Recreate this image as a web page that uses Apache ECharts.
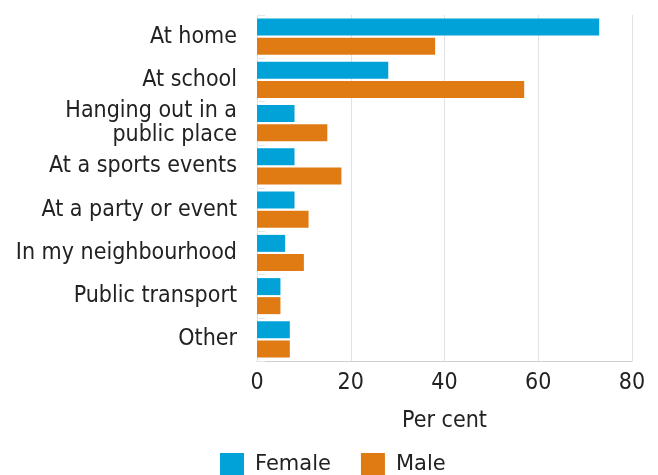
<!DOCTYPE html>
<html>
<head>
<meta charset="utf-8">
<script src="https://cdn.jsdelivr.net/npm/echarts@6/dist/echarts.min.js"></script>
<style>
  html, body { margin: 0; padding: 0; background: #ffffff; }
  #chart { width: 658px; height: 475px; }
</style>
</head>
<body>
<div id="chart"></div>
<script>
// Where bullying happened, by sex (per cent)
var categories = [
  'At home',
  'At school',
  'Hanging out in a\npublic place',
  'At a sports events',
  'At a party or event',
  'In my neighbourhood',
  'Public transport',
  'Other'
];
var female = [73, 28, 8, 8, 8, 6, 5, 7];
var male = [38, 57, 15, 18, 11, 10, 5, 7];
var xTicks = [0, 20, 40, 60, 80];

var chart = echarts.init(document.getElementById('chart'));
var labelFont = '"DejaVu Sans Condensed", "DejaVu Sans", sans-serif';

chart.setOption({
  animation: false,
  grid: { left: 257, right: 26, top: 15, bottom: 114, containLabel: false },
  legend: {
    bottom: -2,
    left: 220,
    padding: 0,
    itemWidth: 24,
    itemHeight: 24,
    itemGap: 30,
    icon: 'rect',
    textStyle: {
      fontFamily: '"DejaVu Sans", sans-serif',
      fontSize: 21,
      color: '#222',
      padding: [0, 0, 0, 6]
    },
    data: ['Female', 'Male']
  },
  xAxis: {
    type: 'value',
    min: xTicks[0],
    max: xTicks[xTicks.length - 1],
    interval: 20,
    name: 'Per cent',
    nameLocation: 'middle',
    nameGap: 49,
    nameTextStyle: { fontFamily: labelFont, fontSize: 23, color: '#222' },
    axisLine: { show: true, lineStyle: { color: '#cfcfcf' } },
    axisTick: { show: false },
    axisLabel: { fontFamily: labelFont, fontSize: 23, color: '#222', margin: 11 },
    splitLine: { show: true, lineStyle: { color: '#e2e2e2' } }
  },
  yAxis: {
    type: 'category',
    inverse: true,
    data: categories,
    axisLine: { show: true, lineStyle: { color: '#e2e2e2' } },
    axisTick: { show: true, inside: true, length: 8, lineStyle: { color: '#e6e6e6' } },
    axisLabel: {
      fontFamily: labelFont,
      fontSize: 23,
      color: '#222',
      margin: 20,
      lineHeight: 24,
      align: 'right'
    }
  },
  series: [
    {
      name: 'Female',
      type: 'bar',
      data: female,
      barWidth: 17,
      barGap: '12%',
      barCategoryGap: '20%',
      itemStyle: { color: '#00a2d8' }
    },
    {
      name: 'Male',
      type: 'bar',
      data: male,
      barWidth: 17,
      itemStyle: { color: '#e07b14' }
    }
  ]
});
</script>
</body>
</html>
